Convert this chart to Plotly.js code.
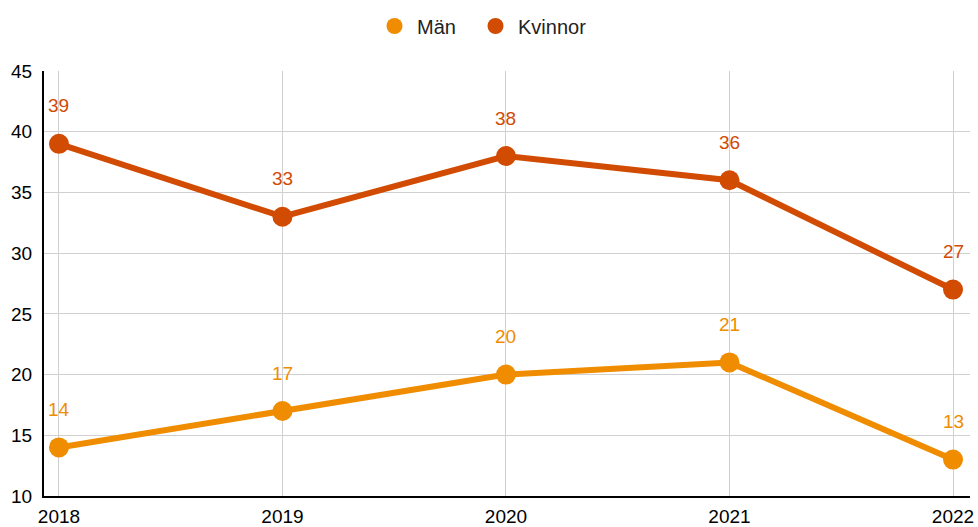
<!DOCTYPE html>
<html><head><meta charset="utf-8">
<script src="https://cdn.plot.ly/plotly-3.0.1.min.js"></script>
<style>html,body{margin:0;padding:0;background:#fff}#c{width:978px;height:527px}</style>
</head><body><div id="c"></div>
<script>
const years = [2018, 2019, 2020, 2021, 2022];
const man = [14, 17, 20, 21, 13];
const kvinnor = [39, 33, 38, 36, 27];
const yTicks = [10, 15, 20, 25, 30, 35, 40, 45];
const cMan = '#EF8C00';
const cKv = '#D14B02';
const font = 'Arial, "Liberation Sans", sans-serif';

function lineTrace(name, y, c) {
  return {x: years, y: y, name: name, mode: 'lines+markers', type: 'scatter',
    line: {color: c, width: 6}, marker: {color: c, size: 20}, showlegend: false, hoverinfo: 'none'};
}
function legTrace(name, c, lg) {
  return {x: [null], y: [null], name: name, mode: 'markers', type: 'scatter',
    marker: {color: c, size: 20}, showlegend: true, legend: lg};
}
const ann = [];
[[man, cMan], [kvinnor, cKv]].forEach(([ys, c]) => {
  ys.forEach((v, i) => ann.push({x: years[i], y: v, text: String(v), showarrow: false,
    yshift: 38, font: {family: font, size: 19, color: c}}));
});
const data = [lineTrace('Män', man, cMan), lineTrace('Kvinnor', kvinnor, cKv),
  legTrace('Män', cMan, 'legend'), legTrace('Kvinnor', cKv, 'legend2')];
function leg(px) {
  return {orientation: 'h', x: px / 978, xref: 'container', xanchor: 'left',
    y: 1 - 26 / 527, yref: 'container', yanchor: 'middle', bgcolor: 'rgba(0,0,0,0)',
    font: {family: font, size: 20, color: '#222'}, itemwidth: 35};
}
const layout = {
  width: 978, height: 527,
  margin: {l: 44, r: 8, t: 71, b: 31},
  paper_bgcolor: '#fff', plot_bgcolor: '#fff',
  font: {family: font, size: 19, color: '#000'},
  showlegend: true,
  legend: leg(372),
  legend2: leg(473),
  xaxis: {range: [2017.933, 2022.076], tickvals: years, ticktext: years.map(String),
    showgrid: true, gridcolor: '#d0d0d0', gridwidth: 1, zeroline: false,
    showline: true, linecolor: '#000', linewidth: 2, ticks: '', fixedrange: true,
    ticklabelstandoff: 2,
    tickfont: {family: font, size: 19, color: '#000'}},
  yaxis: {range: [10, 45], tickvals: yTicks, showgrid: true, gridcolor: '#d0d0d0', gridwidth: 1,
    zeroline: false, showline: true, linecolor: '#000', linewidth: 2, ticks: '',
    ticklabelstandoff: 6,
    tickfont: {family: font, size: 19, color: '#000'}},
  annotations: ann
};
Plotly.newPlot('c', data, layout, {displayModeBar: false, staticPlot: true});
</script></body></html>
